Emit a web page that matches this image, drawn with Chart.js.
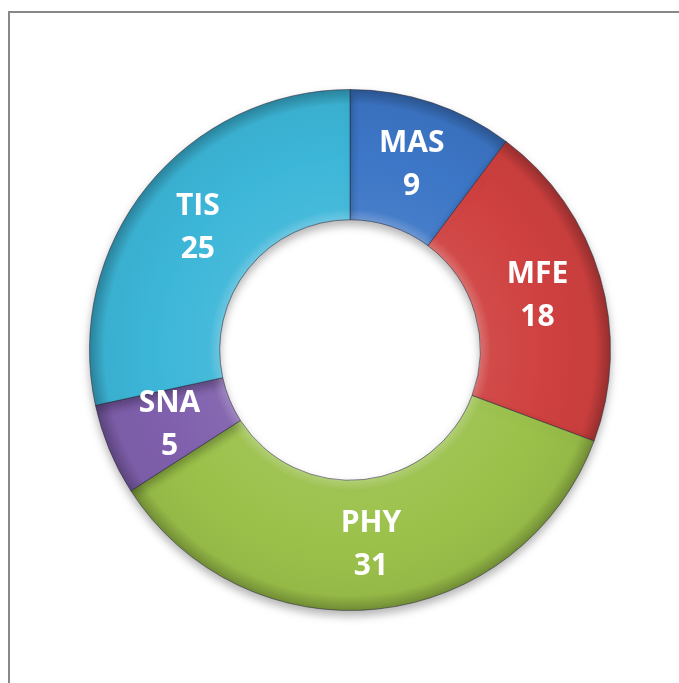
<!DOCTYPE html>
<html>
<head>
<meta charset="utf-8">
<script src="https://cdn.jsdelivr.net/npm/chart.js@4.4.1/dist/chart.umd.min.js"></script>
<style>
  html, body { margin: 0; padding: 0; background: #fff; overflow: hidden; }
  #wrap { position: relative; width: 679px; height: 683px; }
  #frame { position: absolute; left: 8px; top: 11px; width: 720px; height: 720px;
           border-left: 2px solid #888; border-top: 2px solid #888; }
  canvas { position: absolute; left: 0; top: 0; }
</style>
</head>
<body>
<div id="wrap">
  <div id="frame"></div>
  <canvas id="donut" width="679" height="683"></canvas>
</div>
<script>
// data, clockwise from 12 o'clock
const labels = ["MAS", "MFE", "PHY", "SNA", "TIS"];
const values = [9, 18, 31, 5, 25];
const colors = ["#3c76c6", "#cf4140", "#9bc14a", "#8060ad", "#3cb6d8"];

const FONT = '"Open Sans", "DejaVu Sans", sans-serif';

function shade(hex, amt) {
  // amt > 0 lightens, amt < 0 darkens
  const n = parseInt(hex.slice(1), 16);
  let r = (n >> 16) & 255, g = (n >> 8) & 255, b = n & 255;
  const f = (c) => amt >= 0 ? Math.round(c + (255 - c) * amt) : Math.round(c * (1 + amt));
  return `rgb(${f(r)}, ${f(g)}, ${f(b)})`;
}

function fillFor(c) {
  const base = colors[c.dataIndex];
  const area = c.chart.chartArea;
  if (!area) return base;
  const cx = (area.left + area.right) / 2, cy = (area.top + area.bottom) / 2;
  const outer = Math.min(area.right - area.left, area.bottom - area.top) / 2;
  const inner = outer * 0.5;
  const g = c.chart.ctx.createRadialGradient(cx, cy, inner, cx, cy, outer);
  g.addColorStop(0, shade(base, 0.25));
  g.addColorStop(0.08, shade(base, 0.05));
  g.addColorStop(0.5, base);
  g.addColorStop(0.88, shade(base, -0.04));
  g.addColorStop(1, shade(base, -0.28));
  return g;
}

const shadowPlugin = {
  id: "shadow",
  beforeDatasetsDraw(chart) {
    const ctx = chart.ctx;
    ctx.save();
    ctx.shadowColor = "rgba(0,0,0,0.3)";
    ctx.shadowBlur = 10;
    ctx.shadowOffsetY = 5;
  },
  afterDatasetsDraw(chart) {
    chart.ctx.restore();
  }
};

const labelPlugin = {
  id: "sliceLabels",
  afterDatasetsDraw(chart) {
    const ctx = chart.ctx;
    const meta = chart.getDatasetMeta(0);
    ctx.save();
    ctx.fillStyle = "#ffffff";
    ctx.font = "bold 30px " + FONT;
    ctx.textAlign = "center";
    ctx.textBaseline = "middle";
    meta.data.forEach((arc, i) => {
      const p = arc.tooltipPosition();
      ctx.fillText(labels[i], p.x, p.y - 21);
      ctx.fillText(String(values[i]), p.x, p.y + 22);
    });
    ctx.restore();
  }
};

new Chart(document.getElementById("donut"), {
  type: "doughnut",
  data: {
    labels,
    datasets: [{
      data: values,
      backgroundColor: fillFor,
      borderColor: "rgba(40,40,60,0.55)",
      borderWidth: 1
    }]
  },
  options: {
    responsive: false,
    animation: false,
    cutout: "50%",
    layout: { padding: { left: 89, right: 68, top: 89, bottom: 72 } },
    plugins: { legend: { display: false }, tooltip: { enabled: false } }
  },
  plugins: [shadowPlugin, labelPlugin]
});
</script>
</body>
</html>
